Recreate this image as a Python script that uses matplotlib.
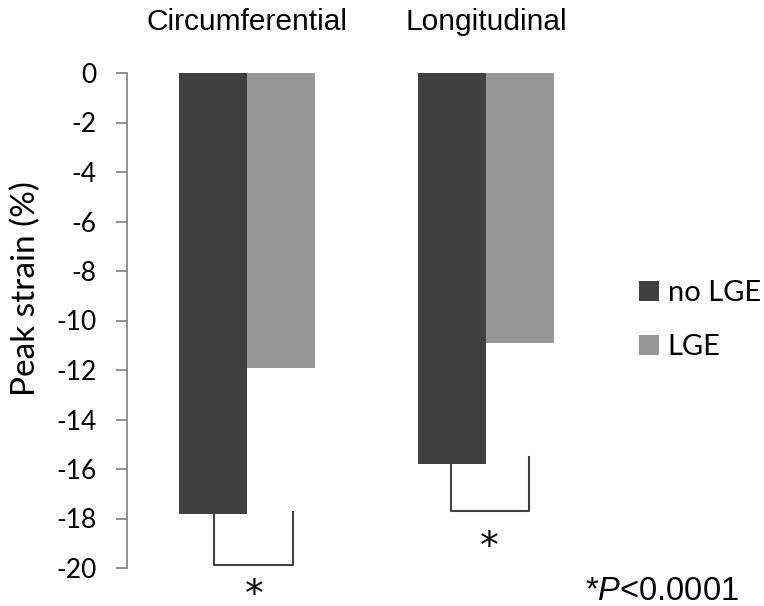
import matplotlib
matplotlib.use("Agg")
import matplotlib.pyplot as plt
import numpy as np

plt.rcParams["mathtext.fontset"] = "custom"
plt.rcParams["mathtext.rm"] = "Liberation Sans"
plt.rcParams["mathtext.it"] = "Liberation Sans:italic"

categories = ["Circumferential", "Longitudinal"]
series_names = ["no LGE", "LGE"]
no_lge = [-17.8, -15.8]
lge = [-11.9, -10.9]
yticks = [0, -2, -4, -6, -8, -10, -12, -14, -16, -18, -20]

W, H = 764, 606
fig = plt.figure(figsize=(W / 100, H / 100), dpi=100)
ax = fig.add_axes([127 / W, 1 - 568 / H, (600 - 127) / W, (568 - 73) / H])

x = np.arange(len(categories))
bw = 0.285
c_dark = "#404040"
c_light = "#979797"
ax.bar(x - bw / 2, no_lge, bw, color=c_dark, label=series_names[0])
ax.bar(x + bw / 2, lge, bw, color=c_light, label=series_names[1])

ax.set_xlim(-0.502, 1.477)
ax.set_ylim(-20, 0)
ax.set_yticks(yticks)
ax.set_yticklabels([str(t) for t in yticks], fontfamily="Lato", fontsize=19)
ax.set_xticks([])
for s in ["top", "right", "bottom"]:
    ax.spines[s].set_visible(False)
ax.spines["left"].set_color("#888888")
ax.spines["left"].set_linewidth(1.3)
ax.tick_params(axis="y", length=8, width=1.3, color="#888888", pad=14)

ax.set_ylabel("Peak strain (%)", fontfamily="Lato", fontsize=24)
ax.yaxis.set_label_coords(-(127 - 41) / (600 - 127), (568 - 289) / 495)

# category titles
for xi, cat in zip(x, categories):
    ax.text(xi, 1 + 51 / 495, cat, transform=ax.get_xaxis_transform(), ha="center", va="center",
            fontfamily="Liberation Sans", fontsize=21.5)

lw = 1.5
bk = "#404040"
# Circumferential bracket
ax.plot([-0.138, -0.138, 0.192, 0.192], [-17.75, -19.88, -19.88, -17.75], color=bk, lw=lw, clip_on=False)
ax.text(0.03, -20.63, "\u204e", ha="center", va="center", fontsize=27,
        fontfamily="DejaVu Sans", clip_on=False)
# Longitudinal bracket
ax.plot([0.853, 0.853, 1.18, 1.18], [-15.5, -17.7, -17.7, -15.5], color=bk, lw=lw, clip_on=False)
ax.text(1.013, -18.69, "\u204e", ha="center", va="center", fontsize=27,
        fontfamily="DejaVu Sans", clip_on=False)

leg = fig.legend(loc="center left", bbox_to_anchor=(639 / W, 1 - 320 / H), frameon=False,
                 prop={"family": "Lato", "size": 21}, handlelength=0.69, handleheight=0.69,
                 handletextpad=0.3, labelspacing=0.95, borderpad=0, borderaxespad=0)

fig.text(585 / W, 1 - 592 / H, "*$\\it{P}$<0.0001", ha="left", va="center",
         fontfamily="Liberation Sans", fontsize=23.5)

fig.savefig("out.png", dpi=100)
